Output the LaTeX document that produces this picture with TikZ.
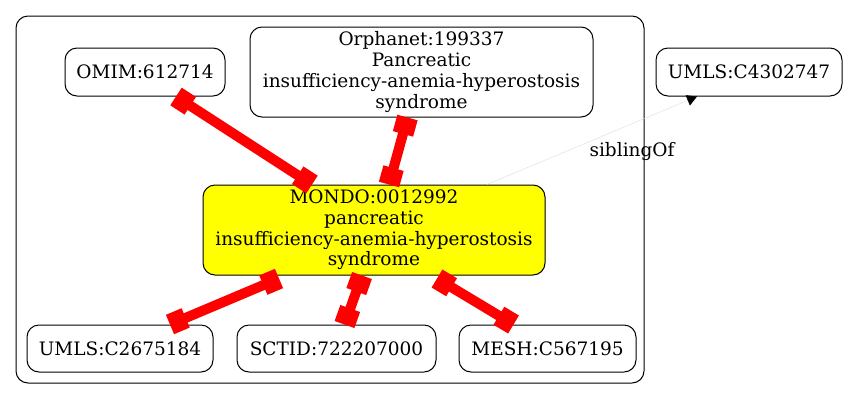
\documentclass[tikz,border=0pt]{standalone}
\usepackage{fontspec}
\setmainfont{DejaVu Serif}
\usepackage{tikz}
\usetikzlibrary{
  positioning,
  arrows.meta
}
\definecolor{mondoyellow}{RGB}{255, 255, 0}
\definecolor{xrefred}{RGB}{255, 0, 0}
\definecolor{siblinggrey}{RGB}{220, 220, 220}
\tikzset{
  term/.style={
    draw, line width=1pt, rounded corners=12pt,
    inner sep=0pt,
    minimum height=48pt,
    font=\fontsize{18.5}{20.7}\selectfont,
    align=center
  },
  xref/.style={
    {Rectangle[length=17pt, width=21pt]}-{Rectangle[length=17pt, width=21pt]},
    line width=10pt, xrefred
  },
  sibling/.style={-{Triangle[length=10pt, width=11pt, black]}, line width=0.4pt, siblinggrey},
  edgelabel/.style={font=\fontsize{18.5}{20.7}\selectfont, text=black}
}

\begin{document}
\begin{tikzpicture}[x=1pt, y=-1pt]
\useasboundingbox (0, 0) rectangle (848, 400);

% cluster
\draw[line width=1pt, rounded corners=12pt] (16, 16) rectangle (644, 383);

% upper row
\node[term, minimum width=160pt] (omim) at (145, 72) {OMIM:612714};
\node[term, minimum width=343pt, minimum height=90pt] (orpha) at (421.5, 72)
  {Orphanet:199337\\Pancreatic\\insufficiency-anemia-hyperostosis\\syndrome};
\node[term, minimum width=186pt] (umlsb) at (749, 72) {UMLS:C4302747};

% MONDO term
\node[term, fill=mondoyellow, minimum width=342pt, minimum height=90pt] (mondo) at (374, 230)
  {MONDO:0012992\\pancreatic\\insufficiency-anemia-hyperostosis\\syndrome};

% lower row
\node[term, minimum width=186pt, minimum height=47pt] (umlsa) at (120, 348.5) {UMLS:C2675184};
\node[term, minimum width=199pt, minimum height=47pt] (sctid) at (336.5, 348.5) {SCTID:722207000};
\node[term, minimum width=177pt, minimum height=47pt] (mesh) at (547.5, 348.5) {MESH:C567195};

% xrefs
\draw[xref] ([xshift=31pt]omim.south) -- ([xshift=-62pt]mondo.north);
\draw[xref] ([xshift=-14pt]orpha.south) -- ([xshift=15pt]mondo.north);
\draw[xref] ([xshift=-95pt, yshift=-3pt]mondo.south) -- ([xshift=50pt]umlsa.north);
\draw[xref] ([xshift=-12pt]mondo.south) -- ([xshift=8pt]sctid.north);
\draw[xref] ([xshift=63pt, yshift=-3pt]mondo.south) -- ([xshift=-34pt]mesh.north);

% sibling
\draw[sibling] ([xshift=113pt]mondo.north) -- ([xshift=-52pt]umlsb.south)
  node[edgelabel, pos=0.6, xshift=19pt, yshift=-20pt] (siblab) {siblingOf};

\end{tikzpicture}
\end{document}
